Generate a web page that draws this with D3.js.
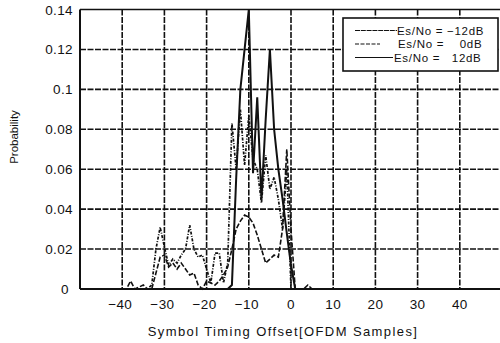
<!DOCTYPE html>
<html><head><meta charset="utf-8">
<script src="https://cdn.jsdelivr.net/npm/d3@7"></script>
<style>
html,body{margin:0;padding:0;background:#fff;overflow:hidden;}
text{font-family:"Liberation Sans",Arial,Helvetica,sans-serif;fill:#111;white-space:pre;}
</style></head>
<body><svg id="c" width="500" height="343"></svg>
<script>
// ---- data ----
const offsets = d3.range(-45, 6); // -45 .. 5
const snrM12 = [0,0,0,0,0,0,0,0.004,0,0.001,0.002,0,0,0.008,0.016,0.017,0.011,0.013,0.010,0.013,0.010,0.007,0.008,0.002,0,0.004,0.003,0.002,0.004,0.007,0.011,0.020,0.030,0.034,0.037,0.036,0.033,0.027,0.020,0.013,0.015,0.017,0.016,0.030,0.070,0.030,0,0,0,0.002,0];
const snr0   = [0,0,0,0,0,0,0,0,0,0,0,0,0.002,0.020,0.031,0.021,0.012,0.015,0.013,0.017,0.020,0.032,0.020,0.016,0.017,0.010,0.003,0.018,0.018,0.003,0.013,0.083,0.060,0.090,0.062,0.087,0.065,0.060,0.043,0.067,0.050,0.056,0.045,0.030,0.060,0,0,0,0,0,0];
const snr12  = [0,0,0,0,0,0,0,0,0,0,0,0,0,0,0,0,0,0,0,0,0,0,0,0,0,0,0,0,0,0,0,0.002,0.055,0.100,0.120,0.140,0.058,0.096,0.045,0.085,0.120,0.080,0.060,0.045,0.028,0.012,0,0,0,0,0];
const xTicks = [-40,-30,-20,-10,0,10,20,30,40];
const yTicks = [0,0.02,0.04,0.06,0.08,0.1,0.12,0.14];
const legendLabels = ["Es/No = \u221212dB","Es/No =    0dB","Es/No =   12dB"];

const svg = d3.select("#c");
const x = d3.scaleLinear().domain([-50,50]).range([80,502]);
const y = d3.scaleLinear().domain([0,0.14]).range([289,9.5]);

// grid
const g = svg.append("g");
g.selectAll(".vg").data(xTicks).join("line")
  .attr("x1",d=>x(d)).attr("x2",d=>x(d)).attr("y1",y(0.14)).attr("y2",y(0))
  .attr("stroke","#111").attr("stroke-width",1.6).attr("stroke-dasharray","6,1.5");
g.selectAll(".hg").data(yTicks.filter(d=>d>0 && d<0.14)).join("line")
  .attr("x1",x(-50)).attr("x2",x(50)).attr("y1",d=>y(d)).attr("y2",d=>y(d))
  .attr("stroke","#111").attr("stroke-width",1.6).attr("stroke-dasharray","6,1.5");
// frame
g.append("line").attr("x1",x(-50)).attr("x2",x(50)).attr("y1",y(0.14)).attr("y2",y(0.14)).attr("stroke","#111").attr("stroke-width",1.6);
g.append("line").attr("x1",x(-50)).attr("x2",x(50)).attr("y1",y(0)).attr("y2",y(0)).attr("stroke","#111").attr("stroke-width",2);
g.append("line").attr("x1",x(-50)).attr("x2",x(-50)).attr("y1",y(0.14)).attr("y2",y(0)).attr("stroke","#111").attr("stroke-width",2);

// tick labels
svg.selectAll(".yl").data(yTicks).join("text")
  .attr("x",73).attr("y",d=>y(d)+5).attr("text-anchor","end")
  .attr("font-size",13.5).attr("letter-spacing","0.4px").text(d=>d===0?"0 ":d3.format(".2~f")(d));
svg.selectAll(".xl").data(xTicks).join("text")
  .attr("x",d=>x(d)+ (d<0?-2:0)).attr("y",309).attr("text-anchor","middle")
  .attr("font-size",13.5).attr("letter-spacing","0.4px").text(d=>d<0?"\u2212"+Math.abs(d):String(d));

// titles
svg.append("text").attr("x",283).attr("y",336).attr("text-anchor","middle")
  .attr("font-size",13).attr("letter-spacing","1.4px").text("Symbol Timing Offset[OFDM Samples]");
svg.append("text").attr("transform","translate(18,137) rotate(-90)").attr("text-anchor","middle")
  .attr("font-size",11.5).text("Probability");

// series
const line = d3.line().x((d,i)=>x(offsets[i])).y(d=>y(d));
const series = [
  {vals:snrM12, dash:"5,2", w:1.6},
  {vals:snr0, dash:"3,1.5,1,1.5", w:1.7},
  {vals:snr12, dash:null, w:2}
];
series.forEach(s=>{
  svg.append("path").attr("d",line(s.vals)).attr("fill","none")
    .attr("stroke","#111").attr("stroke-width",s.w)
    .attr("stroke-dasharray",s.dash).attr("stroke-linejoin","miter");
});

// legend
const lg = svg.append("g");
lg.append("rect").attr("x",343).attr("y",18).attr("width",155).attr("height",53)
  .attr("fill","#fff").attr("stroke","#111").attr("stroke-width",1.6);
const rows = [30.5,44,57.5];
const lineEnds = [397,380,393];
const textX = [397,398,394];
const dashes = ["5,0.8","4,1.5",null];
rows.forEach((ry,i)=>{
  lg.append("line").attr("x1",355).attr("x2",lineEnds[i]).attr("y1",ry).attr("y2",ry)
    .attr("stroke","#111").attr("stroke-width",1.2).attr("stroke-dasharray",dashes[i]);
  lg.append("text").attr("x",textX[i]).attr("y",ry+4.2).attr("font-size",11.5).attr("letter-spacing","0.7px").text(legendLabels[i]);
});
</script></body></html>
